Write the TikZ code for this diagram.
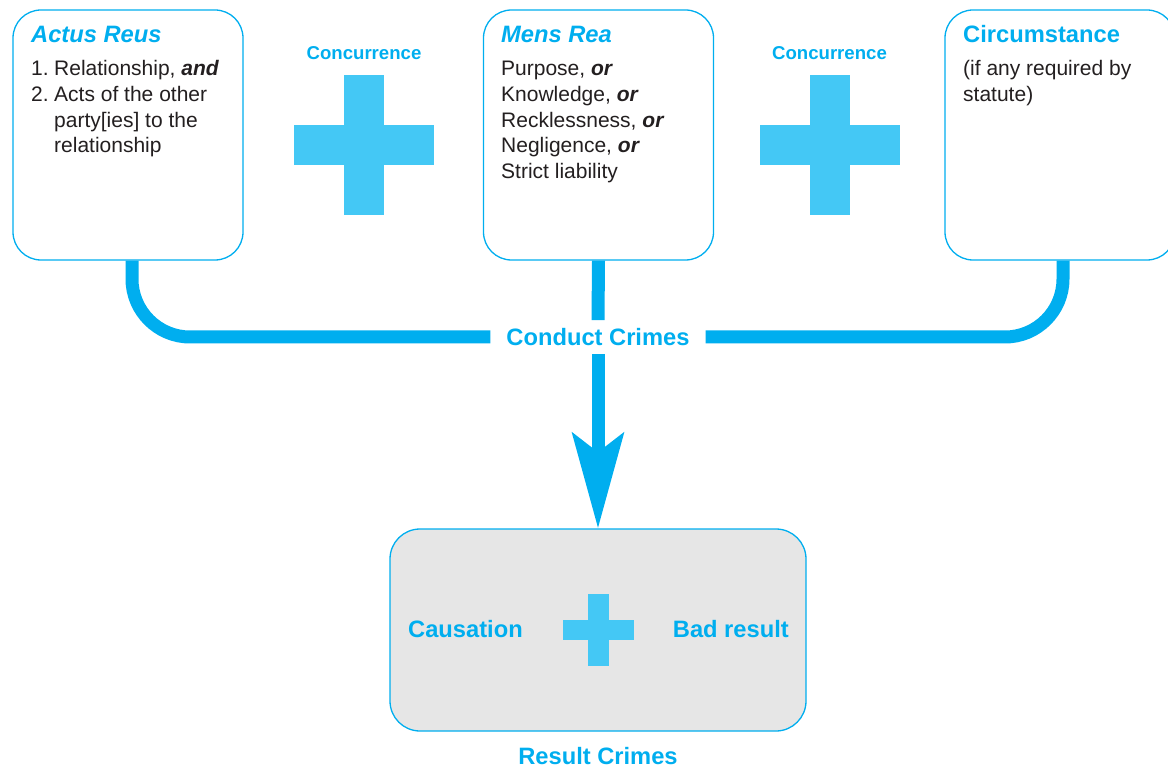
\documentclass[tikz,border=0pt]{standalone}
\usepackage{fontspec}
\setmainfont{Liberation Sans}
\usetikzlibrary{arrows.meta,calc}
\definecolor{lawcyan}{HTML}{00AEEF}
\definecolor{pluscyan}{HTML}{44C8F5}
\definecolor{ink}{HTML}{231F20}
\definecolor{panel}{HTML}{E6E6E6}
\tikzset{
  element/.style={draw=lawcyan, line width=1.3pt, rounded corners=28pt, fill=white,
    minimum width=230pt, minimum height=250pt, inner sep=0pt},
  heading/.style={anchor=base west, inner sep=0pt, text=lawcyan,
    font=\fontsize{23.7}{28}\selectfont\bfseries},
  bodytext/.style={anchor=base west, inner sep=0pt, text=ink,
    font=\fontsize{21}{25}\selectfont},
  bluelabel/.style={text=lawcyan, font=\fontsize{23.7}{28}\selectfont\bfseries, inner sep=0pt},
  smalllabel/.style={anchor=base, text=lawcyan, font=\fontsize{18.6}{22}\selectfont\bfseries, inner sep=0pt},
  flow/.style={draw=lawcyan, line width=13pt},
  plusfill/.style={fill=pluscyan},
}
\begin{document}
\begin{tikzpicture}[x=1pt, y=-1pt]
\useasboundingbox (0,0) rectangle (1168,767);

% the three elements
\node[element] (actus) at (128,135) {};
\node[element] (mens) at (598.5,135) {};
\node[element] (circ) at (1060,135) {};

% element texts
\node[heading] (actusT) at (31,43) {\itshape Actus Reus};
\node[bodytext] (a1) at (31,76) {1.\kern5.5pt Relationship, \textbf{\itshape and}};
\node[bodytext] (a2) at (31,101.6) {2.\kern5.5pt Acts of the other};
\node[bodytext] (a3) at (54,127.2) {party[ies] to the};
\node[bodytext] (a4) at (54,152.8) {relationship};

\node[heading] (mensT) at (501,43) {\itshape Mens Rea};
\node[bodytext] (m1) at (501,76) {Purpose, \textbf{\itshape or}};
\node[bodytext] (m2) at (501,101.6) {Knowledge, \textbf{\itshape or}};
\node[bodytext] (m3) at (501,127.2) {Recklessness, \textbf{\itshape or}};
\node[bodytext] (m4) at (501,152.8) {Negligence, \textbf{\itshape or}};
\node[bodytext] (m5) at (501,178.4) {Strict liability};

\node[heading] (circT) at (963,43) {Circumstance};
\node[bodytext] (c1) at (963,76) {(if any required by};
\node[bodytext] (c2) at (963,101.6) {statute)};

% concurrence signs
\node[smalllabel] (conc1) at (364,59.5) {Concurrence};
\node[smalllabel] (conc2) at (829.5,59.5) {Concurrence};
\fill[plusfill] (344,75) rectangle (384,215);
\fill[plusfill] (294,125) rectangle (434,165);
\fill[plusfill] (809.5,75) rectangle (849.5,215);
\fill[plusfill] (759.5,125) rectangle (899.5,165);

% result crimes panel
\node[draw=lawcyan, line width=1.3pt, rounded corners=30pt, fill=panel,
      minimum width=416pt, minimum height=202pt, inner sep=0pt] (res) at (598,630) {};
\fill[plusfill] (588,594) rectangle (609,666);
\fill[plusfill] (563,620) rectangle (634,640);
\node[bluelabel, anchor=base west] (cause) at (408,637) {Causation};
\node[bluelabel, anchor=base east] (bad) at (789,637) {Bad result};
\node[bluelabel, anchor=base] (rescrimes) at (598,764) {Result Crimes};

% conduct crimes junction
\node[bluelabel, inner xsep=16pt, inner ysep=8pt] (cc) at (598,337) {Conduct Crimes};

\coordinate (actusOut) at ($(actus.south)+(4,0)$);
\coordinate (circOut) at ($(circ.south)+(3,0)$);
\draw[flow, rounded corners=58pt] (actusOut) |- (cc.west);
\draw[flow, rounded corners=58pt] (cc.east) -| (circOut);
\draw[flow] (mens.south) -- (cc.north);
\draw[flow, -{Stealth[length=95pt, width=51pt, inset=19pt]}] (cc.south) -- (res.north);
\end{tikzpicture}
\end{document}
